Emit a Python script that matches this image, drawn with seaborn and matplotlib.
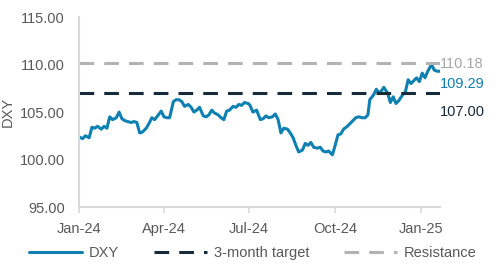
import matplotlib
matplotlib.use("Agg")
import matplotlib.pyplot as plt
import seaborn as sns
import pandas as pd

dates = [
    "2024-01-01", "2024-01-05", "2024-01-08", "2024-01-12", "2024-01-15", "2024-01-18",
    "2024-01-21", "2024-01-25", "2024-01-28", "2024-01-31", "2024-02-03", "2024-02-06",
    "2024-02-10", "2024-02-13", "2024-02-16", "2024-02-19", "2024-02-22", "2024-02-26",
    "2024-02-29", "2024-03-03", "2024-03-06", "2024-03-09", "2024-03-13", "2024-03-16",
    "2024-03-19", "2024-03-22", "2024-03-26", "2024-03-29", "2024-04-01", "2024-04-04",
    "2024-04-07", "2024-04-11", "2024-04-14", "2024-04-17", "2024-04-20", "2024-04-23",
    "2024-04-27", "2024-04-30", "2024-05-03", "2024-05-06", "2024-05-09", "2024-05-13",
    "2024-05-16", "2024-05-19", "2024-05-22", "2024-05-25", "2024-05-29", "2024-06-01",
    "2024-06-04", "2024-06-07", "2024-06-10", "2024-06-14", "2024-06-17", "2024-06-20",
    "2024-06-23", "2024-06-26", "2024-06-30", "2024-07-02", "2024-07-05", "2024-07-09",
    "2024-07-13", "2024-07-16", "2024-07-19", "2024-07-22", "2024-07-26", "2024-07-29",
    "2024-08-01", "2024-08-04", "2024-08-07", "2024-08-11", "2024-08-14", "2024-08-17",
    "2024-08-20", "2024-08-23", "2024-08-27", "2024-08-30", "2024-09-02", "2024-09-05",
    "2024-09-08", "2024-09-12", "2024-09-15", "2024-09-18", "2024-09-21", "2024-09-24",
    "2024-09-28", "2024-10-01", "2024-10-04", "2024-10-07", "2024-10-10", "2024-10-14",
    "2024-10-17", "2024-10-20", "2024-10-23", "2024-10-26", "2024-10-30", "2024-11-02",
    "2024-11-05", "2024-11-07", "2024-11-11", "2024-11-14", "2024-11-17", "2024-11-20",
    "2024-11-22", "2024-11-26", "2024-11-29", "2024-12-02", "2024-12-05", "2024-12-08",
    "2024-12-12", "2024-12-15", "2024-12-18", "2024-12-21", "2024-12-24", "2024-12-27",
    "2024-12-30", "2025-01-02", "2025-01-05", "2025-01-08", "2025-01-12", "2025-01-15",
    "2025-01-18", "2025-01-21",
]
dxy = [
    102.4, 102.2, 102.5, 102.3, 103.4, 103.3,
    103.5, 103.2, 103.5, 103.3, 104.5, 104.2,
    104.4, 105.0, 104.3, 104.1, 104.0, 103.9,
    104.0, 103.9, 102.8, 102.9, 103.3, 103.8,
    104.4, 104.2, 104.7, 105.1, 104.5, 104.4,
    104.4, 106.1, 106.3, 106.3, 106.1, 105.6,
    105.8, 105.5, 105.0, 105.2, 105.5, 104.6,
    104.5, 104.7, 105.2, 104.9, 104.7, 104.4,
    104.2, 105.1, 105.2, 105.6, 105.5, 105.8,
    105.7, 106.0, 105.9, 105.7, 105.0, 105.2,
    104.2, 104.3, 104.6, 104.4, 104.5, 104.8,
    104.2, 102.8, 103.3, 103.2, 102.8, 102.3,
    101.5, 100.8, 101.0, 101.7, 101.5, 101.8,
    101.3, 101.2, 101.3, 100.9, 100.8, 100.9,
    100.5, 101.5, 102.6, 102.7, 103.2, 103.5,
    103.8, 104.1, 104.4, 104.5, 104.4, 104.4,
    104.7, 106.3, 106.8, 107.4, 107.0, 107.3,
    107.6, 107.0, 106.0, 106.6, 105.9, 106.2,
    106.8, 107.1, 108.4, 108.0, 108.3, 108.6,
    108.2, 109.1, 108.6, 109.3, 110.0, 109.4,
    109.3, 109.29,
]
target = 107.00
resistance = 110.18
y_ticks = [95, 100, 105, 110, 115]
x_ticks = ["2024-01-01", "2024-04-01", "2024-07-01", "2024-10-01", "2025-01-01"]
x_tick_labels = ["Jan-24", "Apr-24", "Jul-24", "Oct-24", "Jan-25"]

df = pd.DataFrame({"date": pd.to_datetime(dates), "DXY": dxy})

sns.set_theme(style="white")
plt.rcParams["font.family"] = ["Liberation Sans", "DejaVu Sans"]

BLUE = "#0E80B2"
NAVY = "#172B3B"
GREY = "#B3B3B3"
TXT = "#595959"
FS = 10.5

fig = plt.figure(figsize=(4.96, 2.70), dpi=100)
ax = fig.add_axes([0.159, 0.233, 0.728, 0.704])

sns.lineplot(data=df, x="date", y="DXY", ax=ax, color=BLUE, lw=2.2, label="DXY")
ax.axhline(target, color=NAVY, lw=2.2, dashes=(4.8, 3.3), label="3-month target")
ax.axhline(resistance, color=GREY, lw=2.2, dashes=(4.8, 3.3), label="Resistance")

ax.set_ylim(95, 115)
ax.set_xlim(pd.Timestamp("2024-01-01"), pd.Timestamp("2025-01-21"))
ax.set_yticks(y_ticks)
ax.set_yticklabels([f"{v:.2f}" for v in y_ticks])
ax.set_xticks(pd.to_datetime(x_ticks))
ax.set_xticklabels(x_tick_labels)
ax.tick_params(axis="both", labelsize=FS, labelcolor=TXT)
ax.tick_params(axis="x", bottom=True, length=4, width=1.2, color="#D9D9D9", pad=7)
ax.tick_params(axis="y", left=False, length=0, pad=10)
ax.set_xlabel("")
ax.set_ylabel("DXY", fontsize=FS, color=TXT)
ax.yaxis.set_label_coords(-0.178, 0.5)

for s in ["top", "right"]:
    ax.spines[s].set_visible(False)
for s in ["left", "bottom"]:
    ax.spines[s].set_color("#D9D9D9")
    ax.spines[s].set_linewidth(1.5)

end = df["date"].iloc[-1]
ax.annotate(f"{resistance:.2f}", (end, resistance), xytext=(0, -1), textcoords="offset points",
            va="center", ha="left", fontsize=FS, color="#A6A6A6", annotation_clip=False)
ax.annotate(f"{dxy[-1]:.2f}", (end, dxy[-1]), xytext=(0, -9), textcoords="offset points",
            va="center", ha="left", fontsize=FS, color=BLUE, annotation_clip=False)
ax.annotate(f"{target:.2f}", (end, target), xytext=(0, -13.5), textcoords="offset points",
            va="center", ha="left", fontsize=FS, color=NAVY, annotation_clip=False)

leg = ax.legend(loc="center", bbox_to_anchor=(0.51, 1 - 253 / 270), bbox_transform=fig.transFigure,
                ncol=3, frameon=False, fontsize=FS, handlelength=3.6, columnspacing=2.4,
                handletextpad=0.5, borderaxespad=0, borderpad=0)
for t in leg.get_texts():
    t.set_color(TXT)

fig.savefig("out.png", dpi=100)
